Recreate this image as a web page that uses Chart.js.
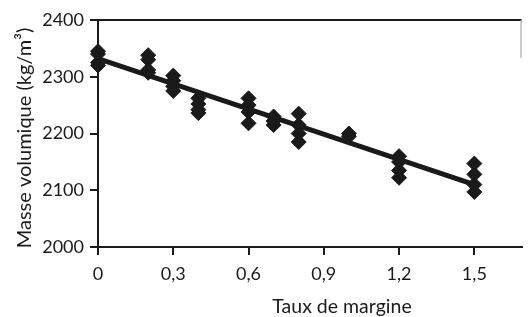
<!DOCTYPE html>
<html>
<head>
<meta charset="utf-8">
<script src="https://cdn.jsdelivr.net/npm/chart.js@4/dist/chart.umd.min.js"></script>
<style>
html,body{margin:0;padding:0;background:#fff;}
#wrap{width:530px;height:317px;position:relative;}
</style>
</head>
<body>
<div id="wrap"><canvas id="c" width="530" height="317"></canvas></div>
<script>
// Measured points (taux de margine, masse volumique kg/m3)
const pointX = [0,0,0,0, 0.2,0.2,0.2,0.2, 0.3,0.3,0.3,0.3, 0.4,0.4,0.4,0.4,
                0.6,0.6,0.6,0.6, 0.7,0.7,0.7, 0.8,0.8,0.8,0.8, 1.0,1.0,
                1.2,1.2,1.2,1.2, 1.5,1.5,1.5,1.5];
const pointY = [2345,2340,2325,2320, 2338,2330,2312,2307, 2302,2293,2283,2275, 2262,2252,2242,2236,
                2262,2250,2238,2218, 2230,2222,2215, 2235,2215,2200,2185, 2200,2195,
                2160,2150,2135,2122, 2147,2128,2110,2097];
// Regression line end points
const fitX = [0, 1.5];
const fitY = [2332, 2110];
// Tick labels
const xTickValues = [0, 0.3, 0.6, 0.9, 1.2, 1.5];
const yTickValues = [2000, 2100, 2200, 2300, 2400];
const xTitle = 'Taux de margine';
const yTitle = 'Masse volumique (kg/m³)';

const INK = '#1b1a1b';
const FONT = 'Lato, "Open Sans", sans-serif';

const scatterData = pointX.map((x, i) => ({x: x, y: pointY[i]}));
const fitData = fitX.map((x, i) => ({x: x, y: fitY[i]}));

const frame = {
  id: 'frame',
  afterDraw(chart) {
    const a = chart.chartArea, ctx = chart.ctx;
    ctx.save();
    ctx.strokeStyle = INK;
    ctx.lineWidth = 2;
    ctx.beginPath();
    ctx.moveTo(a.left, a.top);
    ctx.lineTo(a.right, a.top);
    ctx.stroke();
    ctx.strokeStyle = '#999';
    ctx.lineWidth = 1;
    ctx.beginPath();
    ctx.moveTo(a.right - 0.5, a.top);
    ctx.lineTo(a.right - 0.5, a.top + 38);
    ctx.stroke();
    // axis titles
    ctx.fillStyle = INK;
    ctx.font = '19.5px ' + FONT;
    ctx.textAlign = 'center';
    ctx.textBaseline = 'alphabetic';
    ctx.fillText(xTitle, 342, 313);
    ctx.translate(31, 138);
    ctx.rotate(-Math.PI / 2);
    ctx.font = '20px ' + FONT;
    ctx.fillText(yTitle, 0, 0);
    ctx.restore();
  }
};

new Chart(document.getElementById('c'), {
  type: 'scatter',
  data: {
    datasets: [
      {
        type: 'line',
        data: fitData,
        borderColor: INK,
        borderWidth: 5,
        pointRadius: 0,
        fill: false,
        clip: false,
        order: 2
      },
      {
        data: scatterData,
        pointStyle: 'rectRot',
        pointRadius: 7.5,
        pointBackgroundColor: INK,
        pointBorderColor: INK,
        pointBorderWidth: 1,
        pointHoverRadius: 7.5,
        clip: false,
        order: 1
      }
    ]
  },
  options: {
    responsive: false,
    animation: false,
    events: [],
    layout: {padding: {top: 20, right: 1, left: 0, bottom: 0}},
    plugins: {legend: {display: false}, tooltip: {enabled: false}},
    scales: {
      x: {
        type: 'linear',
        min: 0,
        max: 1.688,
        afterBuildTicks: s => { s.ticks = xTickValues.map(v => ({value: v})); },
        afterFit: s => { s.height = 70; },
        border: {display: true, color: INK, width: 2},
        grid: {display: true, drawOnChartArea: false, drawTicks: true, tickLength: 8, color: INK, lineWidth: 2},
        ticks: {
          color: INK, font: {family: FONT, size: 18}, padding: 8, maxRotation: 0,
          callback: v => String(v).replace('.', ',')
        },
        title: {display: false}
      },
      y: {
        type: 'linear',
        min: 2000,
        max: 2400,
        afterBuildTicks: s => { s.ticks = yTickValues.map(v => ({value: v})); },
        afterFit: s => { s.width = 98; },
        border: {display: true, color: INK, width: 2},
        grid: {display: true, drawOnChartArea: false, drawTicks: true, tickLength: 8, color: INK, lineWidth: 2},
        ticks: {color: INK, font: {family: FONT, size: 18}, padding: 6, callback: v => String(v)},
        title: {display: false}
      }
    }
  },
  plugins: [frame]
});
</script>
</body>
</html>
